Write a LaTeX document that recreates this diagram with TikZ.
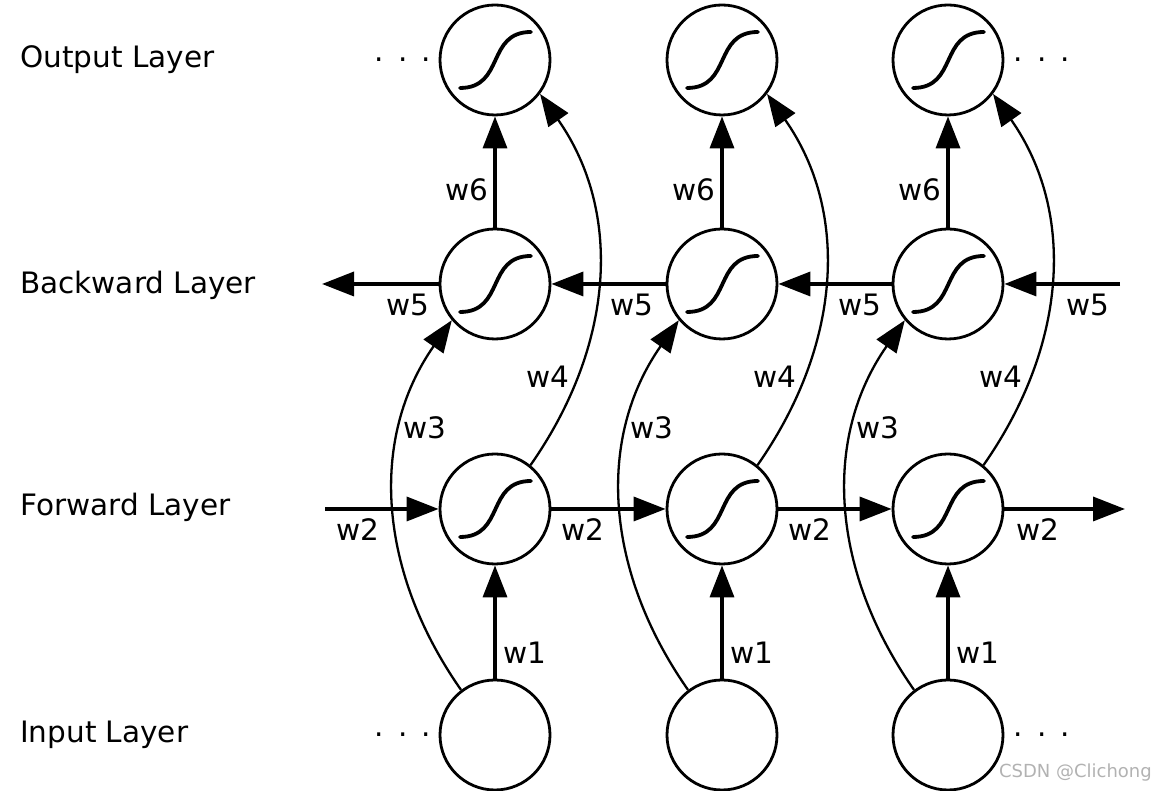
\documentclass[tikz,border=0pt]{standalone}
\usepackage{fontspec}
\setmainfont{DejaVu Sans}
\usetikzlibrary{arrows.meta,calc}
\begin{document}
\begin{tikzpicture}[x=1pt,y=1pt,
 neuron/.style={circle,draw,line width=2.8pt,minimum size=110pt,inner sep=0pt},
 conn/.style={line width=3.5pt,-{Triangle[length=32pt,width=24pt]}},
 arcc/.style={line width=2.3pt,-{Triangle[length=32pt,width=24pt]}},
 wlab/.style={font=\fontsize{29.5}{32}\selectfont,inner sep=0pt},
 layer/.style={font=\fontsize{29.5}{32}\selectfont,anchor=west,inner sep=0pt},
 sig/.style={line width=3.8pt,line cap=round}]
\useasboundingbox (0,0) rectangle (1173,791);
% layer labels
\node[layer] (lout) at (20,731) {Output Layer};
\node[layer] (lbw) at (20,506) {Backward Layer};
\node[layer] (lfw) at (20,284) {Forward Layer};
\node[layer] (lin) at (20,56) {Input Layer};
% neurons
\foreach \i/\x in {1/495,2/722,3/948} {
  \node[neuron] (out\i) at (\x,731) {};
  \node[neuron] (bw\i) at (\x,507) {};
  \node[neuron] (fw\i) at (\x,282) {};
  \node[neuron] (in\i) at (\x,56) {};
  \foreach \n in {out\i,bw\i,fw\i} {
    \draw[sig] ($(\n)+(-35,-28)$) .. controls ($(\n)+(10,-28)$) and ($(\n)+(-9,28)$) .. ($(\n)+(36,28)$);
  }
}
% dots
\node[wlab] (dol) at (403,731) {.\hspace{14pt}.\hspace{14pt}.};
\node[wlab] (dor) at (1042,731) {.\hspace{14pt}.\hspace{14pt}.};
\node[wlab] (dil) at (403,56) {.\hspace{14pt}.\hspace{14pt}.};
\node[wlab] (dir) at (1042,56) {.\hspace{14pt}.\hspace{14pt}.};
% forward row
\coordinate (fin) at (325,282);
\coordinate (fout) at (1125,282);
\draw[conn] (fin) -- (fw1);
\draw[conn] (fw1) -- (fw2);
\draw[conn] (fw2) -- (fw3);
\draw[conn] (fw3) -- (fout);
% backward row
\coordinate (bin) at (1120,507);
\coordinate (bout) at (322,507);
\draw[conn] (bin) -- (bw3);
\draw[conn] (bw3) -- (bw2);
\draw[conn] (bw2) -- (bw1);
\draw[conn] (bw1) -- (bout);
% verticals and curves
\foreach \i/\x in {1/495,2/722,3/948} {
  \draw[conn] (in\i) -- (fw\i);
  \draw[conn] (bw\i) -- (out\i);
  \draw[arcc] (in\i.127) to[out=125,in=235] (bw\i.220);
  \draw[arcc] (fw\i.51) to[out=55,in=-55] (out\i.323);
  \node[wlab] (wa\i) at (\x+30,138) {w1};
  \node[wlab] (wf\i) at (\x-28,601) {w6};
  \node[wlab] (wc\i) at (\x-70,363) {w3};
  \node[wlab] (wd\i) at (\x+53,414) {w4};
}
\foreach \x [count=\i] in {358,583,810,1038} {
  \node[wlab] (wb\i) at (\x,261) {w2};
}
\foreach \x [count=\i] in {408,632,860,1088} {
  \node[wlab] (we\i) at (\x,486) {w5};
}
\node[font=\fontsize{18}{20}\selectfont,text=gray!60,anchor=east,inner sep=0pt] (wm) at (1152,18) {CSDN @Clichong};
\end{tikzpicture}
\end{document}
